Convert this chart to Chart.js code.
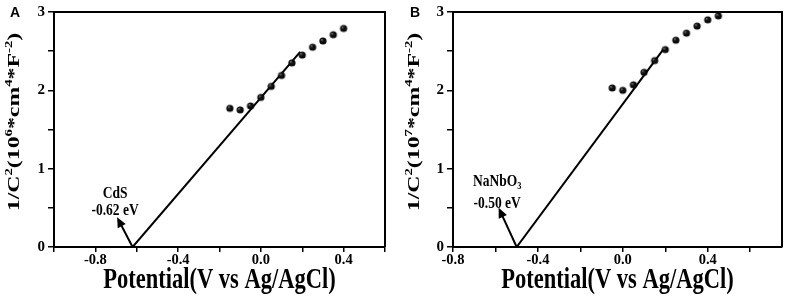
<!DOCTYPE html>
<html>
<head>
<meta charset="utf-8">
<script src="https://cdn.jsdelivr.net/npm/chart.js@4.4.0/dist/chart.umd.min.js"></script>
<style>
	body{margin:0;background:#fff;}
	#wrap{position:relative;width:787px;height:296px;}
	#wrap div{position:absolute;top:0;height:296px;}
</style>
</head>
<body>
<div id="wrap">
	<div style="left:0;width:400px"><canvas id="chartA" width="400" height="296"></canvas></div>
	<div style="left:400px;width:387px"><canvas id="chartB" width="387" height="296"></canvas></div>
</div>
<script>
// panel A - CdS
var potA = [-0.15, -0.10, -0.05, 0.00, 0.05, 0.10, 0.15, 0.20, 0.25, 0.30, 0.35, 0.40];
var invC2A = [1.77, 1.75, 1.80, 1.91, 2.05, 2.19, 2.35, 2.45, 2.55, 2.63, 2.71, 2.79];
var fitXA = [-0.62, 0.19];
var fitYA = [0, 2.49];
var arrowXA = [-0.62, -0.695];
var arrowYA = [0, 0.38];
var xTicksA = [-1.0, -0.8, -0.6, -0.4, -0.2, 0.0, 0.2, 0.4, 0.6];
var xLabelsA = [-0.8, -0.4, 0.0, 0.4];

// panel B - NaNbO3
var potB = [-0.05, 0.00, 0.05, 0.10, 0.15, 0.20, 0.25, 0.30, 0.35, 0.40, 0.45];
var invC2B = [2.03, 2.00, 2.07, 2.23, 2.38, 2.52, 2.64, 2.73, 2.82, 2.90, 2.95];
var fitXB = [-0.50, 0.19];
var fitYB = [0, 2.52];
var arrowXB = [-0.50, -0.585];
var arrowYB = [0, 0.50];
var xTicksB = [-0.8, -0.6, -0.4, -0.2, 0.0, 0.2, 0.4, 0.6];
var xLabelsB = [-0.8, -0.4, 0.0, 0.4];

var yTicks = [0, 0.5, 1, 1.5, 2, 2.5, 3];
var yLabels = [0, 1, 2, 3];

var SERIF = "'Liberation Serif', 'Times New Roman', serif";

function pairs(xs, ys){
	var out = [];
	for(var i in xs){
		out.push({x: xs[i], y: ys[i]});
	}
	return out;
}

// little shaded ball used as marker
function makeBall(r){
	var s = Math.ceil(r*2)+2;
	var c = document.createElement('canvas');
	c.width = s; c.height = s;
	var g = c.getContext('2d');
	var grad = g.createRadialGradient(s/2-r*0.35, s/2-r*0.35, 0.1, s/2, s/2, r);
	grad.addColorStop(0, '#c8c8c8');
	grad.addColorStop(0.25, '#1a1a1a');
	grad.addColorStop(1, '#000');
	g.fillStyle = grad;
	g.beginPath();
	g.arc(s/2, s/2, r, 0, Math.PI*2);
	g.fill();
	return c;
}
var ball = makeBall(3.6);

// draws text pieces with sup/sub, centred on 0,0
function drawRich(ctx, segs, size){
	var w = 0;
	segs.forEach(function(s){
		ctx.font = 'bold '+(s.sup||s.sub ? size*0.62 : size)+'px '+SERIF;
		s.w = ctx.measureText(s.t).width;
		w += s.w;
	});
	var x = -w/2;
	ctx.textAlign = 'left';
	ctx.textBaseline = 'alphabetic';
	segs.forEach(function(s){
		ctx.font = 'bold '+(s.sup||s.sub ? size*0.62 : size)+'px '+SERIF;
		var dy = s.sup ? -size*0.38 : (s.sub ? size*0.15 : 0);
		ctx.fillText(s.t, x, size*0.33+dy);
		x += s.w;
	});
}

function deco(p){
	return {
		id: 'deco'+p.letter,
		afterDraw: function(chart){
			var ctx = chart.ctx, a = chart.chartArea;
			var xs = chart.scales.x, ys = chart.scales.y;
			ctx.save();
			ctx.strokeStyle = '#000';
			ctx.fillStyle = '#000';
			ctx.lineWidth = 2;
			// top and right of the frame
			ctx.beginPath();
			ctx.moveTo(a.left, a.top);
			ctx.lineTo(a.right, a.top);
			ctx.lineTo(a.right, a.bottom);
			ctx.stroke();

			// arrow
			var x0 = xs.getPixelForValue(p.arrowX[0]), y0 = ys.getPixelForValue(p.arrowY[0]);
			var x1 = xs.getPixelForValue(p.arrowX[1]), y1 = ys.getPixelForValue(p.arrowY[1]);
			var ang = Math.atan2(y1-y0, x1-x0);
			var c = Math.cos(ang), s = Math.sin(ang);
			ctx.beginPath();
			ctx.moveTo(x0, y0);
			ctx.lineTo(x1-7*c, y1-7*s);
			ctx.stroke();
			ctx.beginPath();
			ctx.moveTo(x1, y1);
			ctx.lineTo(x1-10*c+4.5*s, y1-10*s-4.5*c);
			ctx.lineTo(x1-10*c-4.5*s, y1-10*s+4.5*c);
			ctx.closePath();
			ctx.fill();

			// annotation text
			p.notes.forEach(function(n){
				ctx.save();
				ctx.translate(xs.getPixelForValue(n.x), ys.getPixelForValue(n.y));
				ctx.scale(1, 1.25);
				drawRich(ctx, n.segs, 13.5);
				ctx.restore();
			});

			// x title
			ctx.save();
			ctx.translate((a.left+a.right)/2, 287.5);
			ctx.scale(1, 1.33);
			ctx.font = 'bold 22.5px '+SERIF;
			ctx.textAlign = 'center';
			ctx.textBaseline = 'alphabetic';
			ctx.fillText('Potential(V vs Ag/AgCl)', 0, 0);
			ctx.restore();

			// y title
			ctx.save();
			ctx.translate(13, 122);
			ctx.rotate(-Math.PI/2);
			ctx.scale(1.4, 1);
			drawRich(ctx, p.yTitle, 17);
			ctx.restore();

			// panel letter
			ctx.font = "bold 14px 'Liberation Sans', Arial, sans-serif";
			ctx.textAlign = 'center';
			ctx.textBaseline = 'middle';
			ctx.fillText(p.letter, 15, 13);
			ctx.restore();
		}
	};
}

function makeChart(id, p){
	var ctx = document.getElementById(id);
	return new Chart(ctx, {
		type: 'scatter',
		data: {
			datasets: [
				{
					data: pairs(p.pot, p.inv),
					pointStyle: ball,
					pointRadius: 3.6,
					showLine: false
				},
				{
					data: pairs(p.fitX, p.fitY),
					showLine: true,
					borderColor: '#000',
					borderWidth: 2,
					pointRadius: 0
				}
			]
		},
		options: {
			animation: false,
			responsive: false,
			events: [],
			layout: {padding: {top: 12, right: p.padRight, left: 0, bottom: 0}},
			plugins: {legend: {display: false}, tooltip: {enabled: false}},
			scales: {
				x: {
					type: 'linear',
					min: p.xMin,
					max: p.xMax,
					afterBuildTicks: function(s){ s.ticks = p.xTicks.map(function(v){ return {value: v}; }); },
					afterFit: function(s){ s.height = 49; },
					ticks: {
						color: '#000',
						padding: 0,
						maxRotation: 0,
						autoSkip: false,
						font: {family: SERIF, size: 14.5, weight: 'bold'},
						callback: function(v){
							for(var i in p.xLabels){
								if(Math.abs(p.xLabels[i]-v) < 1e-6) return v.toFixed(1);
							}
							return '';
						}
					},
					grid: {drawOnChartArea: false, drawTicks: true, tickLength: 5, color: '#000', lineWidth: 1.5},
					border: {display: true, color: '#000', width: 2}
				},
				y: {
					min: 0,
					max: 3,
					afterBuildTicks: function(s){ s.ticks = yTicks.map(function(v){ return {value: v}; }); },
					afterFit: function(s){ s.width = p.yWidth; },
					ticks: {
						color: '#000',
						padding: 3,
						autoSkip: false,
						font: {family: SERIF, size: 15, weight: 'bold'},
						callback: function(v){
							return yLabels.indexOf(v) >= 0 ? String(v) : '';
						}
					},
					grid: {drawOnChartArea: false, drawTicks: true, tickLength: 6, color: '#000', lineWidth: 1.5},
					border: {display: true, color: '#000', width: 2}
				}
			}
		},
		plugins: [deco(p)]
	});
}

makeChart('chartA', {
	letter: 'A',
	pot: potA, inv: invC2A, fitX: fitXA, fitY: fitYA,
	arrowX: arrowXA, arrowY: arrowYA,
	xMin: -1.0, xMax: 0.6, xTicks: xTicksA, xLabels: xLabelsA,
	yWidth: 54, padRight: 15,
	notes: [
		{x: -0.705, y: 0.70, segs: [{t: 'CdS'}]},
		{x: -0.705, y: 0.48, segs: [{t: '-0.62 eV'}]}
	],
	yTitle: [{t: '1/C'}, {t: '2', sup: true}, {t: '(10'}, {t: '6', sup: true}, {t: '*cm'}, {t: '4', sup: true}, {t: '*F'}, {t: '-2', sup: true}, {t: ')'}]
});

makeChart('chartB', {
	letter: 'B',
	pot: potB, inv: invC2B, fitX: fitXB, fitY: fitYB,
	arrowX: arrowXB, arrowY: arrowYB,
	xMin: -0.8, xMax: 0.75, xTicks: xTicksB, xLabels: xLabelsB,
	yWidth: 53, padRight: 4,
	notes: [
		{x: -0.592, y: 0.845, segs: [{t: 'NaNbO'}, {t: '3', sub: true}]},
		{x: -0.592, y: 0.575, segs: [{t: '-0.50 eV'}]}
	],
	yTitle: [{t: '1/C'}, {t: '2', sup: true}, {t: '(10'}, {t: '7', sup: true}, {t: '*cm'}, {t: '4', sup: true}, {t: '*F'}, {t: '-2', sup: true}, {t: ')'}]
});
</script>
</body>
</html>
